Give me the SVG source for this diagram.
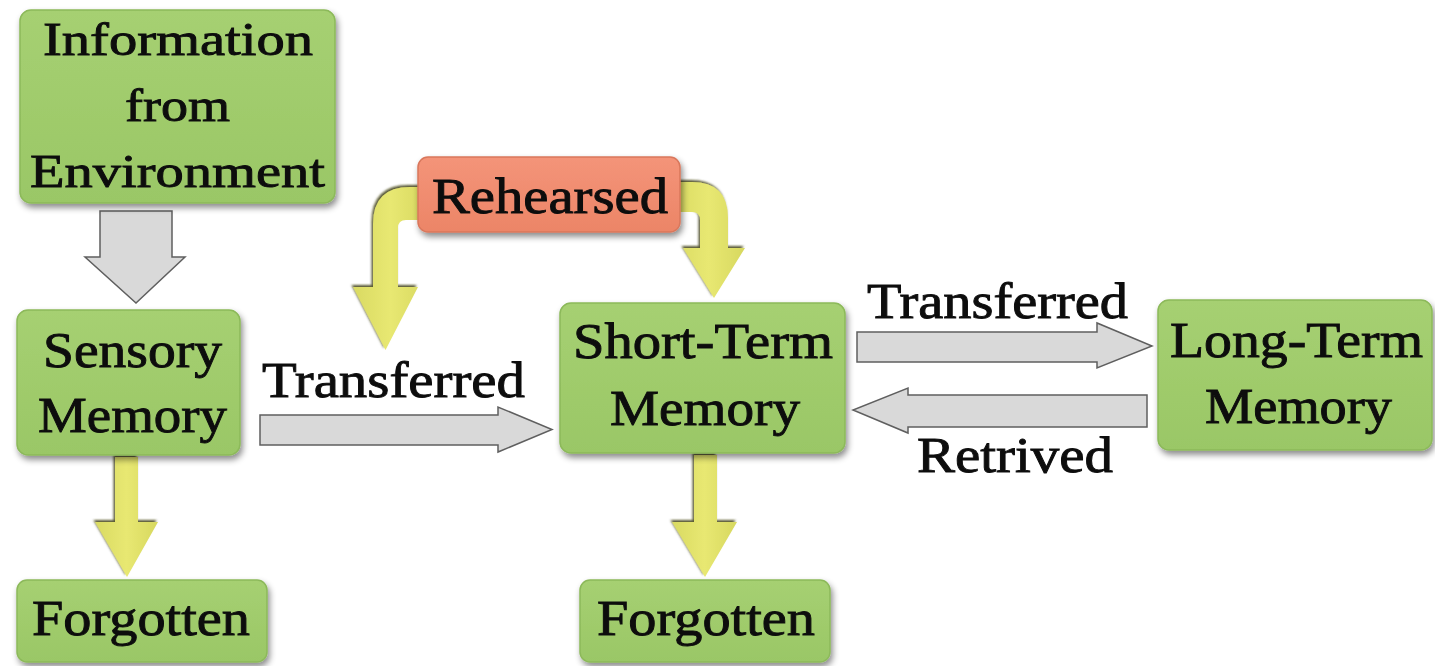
<svg xmlns="http://www.w3.org/2000/svg" width="1435" height="666" viewBox="0 0 1435 666">
  <defs>
    <linearGradient id="gGreen" x1="0" y1="0" x2="0" y2="1">
      <stop offset="0" stop-color="#a6d072"/>
      <stop offset="1" stop-color="#9ac766"/>
    </linearGradient>
    <linearGradient id="gSalmon" x1="0" y1="0" x2="0" y2="1">
      <stop offset="0" stop-color="#f49479"/>
      <stop offset="1" stop-color="#ec8567"/>
    </linearGradient>
    <linearGradient id="gYellow" x1="0" y1="0" x2="1" y2="0">
      <stop offset="0" stop-color="#d9da62"/>
      <stop offset="0.5" stop-color="#e8e872"/>
      <stop offset="1" stop-color="#d7d85f"/>
    </linearGradient>
    <filter id="shadow" x="-10%" y="-10%" width="125%" height="130%">
      <feDropShadow dx="2" dy="4" stdDeviation="3" flood-color="#000" flood-opacity="0.45"/>
    </filter>
    <filter id="ydark" x="-20%" y="-20%" width="140%" height="140%">
      <feDropShadow dx="-1.5" dy="-2" stdDeviation="0.8" flood-color="#3d3d10" flood-opacity="0.85"/>
    </filter>
  </defs>
  <style>
    .box { fill: url(#gGreen); stroke: #8cb95a; stroke-width: 1.5; filter: url(#shadow); }
    .rbox { fill: url(#gSalmon); stroke: #d9775b; stroke-width: 1.5; filter: url(#shadow); }
    .t { font-family: "Liberation Serif", "Times New Roman", serif; font-size: 50px; fill: #0d0d0d; stroke: #0d0d0d; stroke-width: 0.9; }
    .ti { font-size: 47px; }
    .gray { fill: #d9d9d9; stroke: #5f5f5f; stroke-width: 1.5; stroke-linejoin: miter; }
    .yel { fill: url(#gYellow); filter: url(#ydark); }
  </style>
  <rect width="1435" height="666" fill="#ffffff"/>

  <g id="connectors">
    <!-- Information -> Sensory -->
    <path class="gray" d="M100 211 L172 211 L172 257 L185 257 L136 303 L85 257 L100 257 Z"/>
    <!-- Sensory -> STM -->
    <path class="gray" d="M260 415 L498 415 L498 407 L552 429.5 L498 452 L498 445 L260 445 Z"/>
    <!-- STM -> LTM -->
    <path class="gray" d="M857 332 L1097 332 L1097 323 L1152 346 L1097 368 L1097 362 L857 362 Z"/>
    <!-- LTM -> STM -->
    <path class="gray" d="M1147 395 L908 395 L908 388 L853 410 L908 433 L908 427 L1147 427 Z"/>
    <!-- Sensory -> Forgotten -->
    <path class="yel" d="M115 457 L138 457 L138 522 L158 522 L127 577 L95 522 L115 522 Z"/>
    <!-- STM -> Forgotten -->
    <path class="yel" d="M694 455 L717 455 L717 522 L737 522 L705 577 L672 522 L694 522 Z"/>
    <!-- Rehearsed loop (left) -->
    <path class="yel" d="M428 187 L410 187 Q373 187 373 224 L373 287 L353 287 L385.5 350 L418 287 L398 287 L398 228 Q398 220 406 220 L428 220 Z"/>
    <!-- Rehearsed loop (right) -->
    <path class="yel" d="M672 182 L692 182 Q728 182 728 218 L728 248 L745 248 L714 298 L683 248 L700 248 L700 220 Q700 212 692 212 L672 212 Z"/>
    <text class="t" x="262" y="397" textLength="263" lengthAdjust="spacingAndGlyphs">Transferred</text>
    <text class="t" x="867" y="318" textLength="261" lengthAdjust="spacingAndGlyphs">Transferred</text>
    <text class="t" x="917" y="472" textLength="196" lengthAdjust="spacingAndGlyphs">Retrived</text>
  </g>

  <g id="info">
    <rect class="box" x="20" y="10" width="315" height="193" rx="11"/>
    <text class="t ti" x="43" y="55" textLength="270" lengthAdjust="spacingAndGlyphs">Information</text>
    <text class="t ti" x="125" y="121" textLength="105" lengthAdjust="spacingAndGlyphs">from</text>
    <text class="t ti" x="30" y="187" textLength="295" lengthAdjust="spacingAndGlyphs">Environment</text>
  </g>

  <g id="sensory">
    <rect class="box" x="17" y="310" width="223" height="145" rx="11"/>
    <text class="t" x="43" y="367" textLength="179" lengthAdjust="spacingAndGlyphs">Sensory</text>
    <text class="t" x="38" y="432" textLength="189" lengthAdjust="spacingAndGlyphs">Memory</text>
  </g>

  <g id="forgotten1">
    <rect class="box" x="17" y="580" width="250" height="82" rx="10"/>
    <text class="t" x="32" y="635" textLength="218" lengthAdjust="spacingAndGlyphs">Forgotten</text>
  </g>

  <g id="rehearsed">
    <rect class="rbox" x="418" y="157" width="262" height="75" rx="10"/>
    <text class="t" x="432" y="213" textLength="236" lengthAdjust="spacingAndGlyphs">Rehearsed</text>
  </g>

  <g id="shortterm">
    <rect class="box" x="560" y="303" width="285" height="150" rx="11"/>
    <text class="t" x="573" y="358" textLength="260" lengthAdjust="spacingAndGlyphs">Short-Term</text>
    <text class="t" x="610" y="425" textLength="190" lengthAdjust="spacingAndGlyphs">Memory</text>
  </g>

  <g id="forgotten2">
    <rect class="box" x="580" y="580" width="250" height="82" rx="10"/>
    <text class="t" x="597" y="635" textLength="218" lengthAdjust="spacingAndGlyphs">Forgotten</text>
  </g>

  <g id="longterm">
    <rect class="box" x="1158" y="300" width="274" height="150" rx="11"/>
    <text class="t" x="1170" y="357" textLength="253" lengthAdjust="spacingAndGlyphs">Long-Term</text>
    <text class="t" x="1205" y="423" textLength="187" lengthAdjust="spacingAndGlyphs">Memory</text>
  </g>
</svg>
